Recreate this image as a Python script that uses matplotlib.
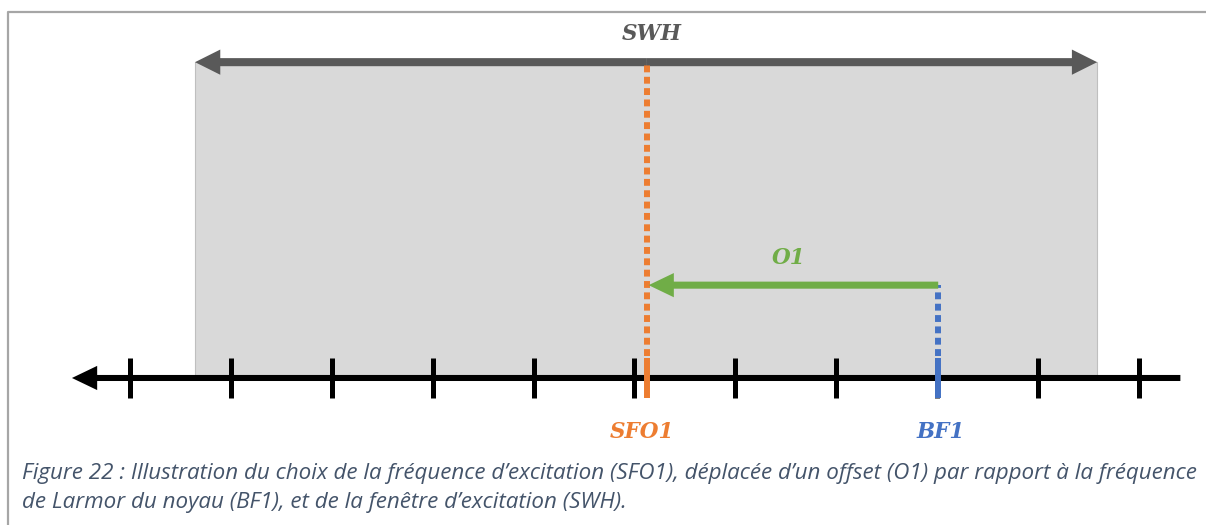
import matplotlib.pyplot as plt
from matplotlib.patches import Rectangle

# positions along the frequency axis, in tick units
ticks = [0, 1, 2, 3, 4, 5, 6, 7, 8, 9, 10]
swh_window = [0.645, 9.585]
sfo1 = 5.12
bf1 = 8.01
o1_level = 0.92
swh_level = 3.13
labels = ['SWH', 'O1', 'SFO1', 'BF1']
caption = ["Figure 22 : Illustration du choix de la fréquence d’excitation (SFO1), déplacée d’un offset (O1) par rapport à la fréquence",
           "de Larmor du noyau (BF1), et de la fenêtre d’excitation (SWH)."]

orange = '#ED7D31'
blue = '#4472C4'
green = '#70AD47'
dark = '#595959'
lab_font = dict(family='DejaVu Serif', weight='bold', style='italic', fontsize=15.5,
                ha='center', va='center')

fig = plt.figure(figsize=(12.06, 5.25), dpi=100)
ax = fig.add_axes([0, 0, 1, 1])
ax.set_xlim(-1.288, 10.664)
ax.set_ylim(-1.457, 3.746)
ax.axis('off')

# frame of the figure box
ax.plot([-1.21, -1.21, 10.7], [-1.5, 3.63, 3.63], color='#A6A6A6', lw=1.6)

# excitation window
ax.add_patch(Rectangle((swh_window[0], 0), swh_window[1] - swh_window[0], swh_level,
                       facecolor='#D9D9D9', edgecolor='#BFBFBF', lw=0.8, zorder=1))

# SWH double arrow
mid = (swh_window[0] + swh_window[1]) / 2
for end in swh_window:
    ax.arrow(mid, swh_level, end - mid, 0, width=0.08, head_width=0.25, head_length=0.25,
             length_includes_head=True, color=dark, lw=0, zorder=3)
ax.text(sfo1 + 0.05, 3.405, labels[0], color=dark, **lab_font)

# frequency axis
ax.arrow(10.41, 0, -10.985, 0, width=0.06, head_width=0.24, head_length=0.25,
         length_includes_head=True, color='black', lw=0, zorder=3)
ax.vlines(ticks, -0.2, 0.2, color='black', lw=3.6, zorder=3)

# SFO1 (orange) and BF1 (blue)
ax.plot([sfo1, sfo1], [0.22, swh_level - 0.02], color=orange, lw=4.3,
        linestyle=(0, (1.15, 0.75)), dash_capstyle='butt', zorder=4)
ax.plot([sfo1, sfo1], [-0.2, 0.2], color=orange, lw=4.3, solid_capstyle='butt', zorder=4)
ax.plot([bf1, bf1], [0.22, o1_level], color=blue, lw=4.3,
        linestyle=(0, (1.15, 0.75)), dash_capstyle='butt', zorder=4)
ax.plot([bf1, bf1], [-0.2, 0.2], color=blue, lw=4.3, solid_capstyle='butt', zorder=4)

# O1 offset arrow
ax.arrow(bf1, o1_level, sfo1 + 0.02 - bf1, 0, width=0.07, head_width=0.24, head_length=0.25,
         length_includes_head=True, color=green, lw=0, zorder=5)
ax.text(6.53, 1.19, labels[1], color=green, **lab_font)

ax.text(5.07, -0.54, labels[2], color=orange, **lab_font)
ax.text(8.03, -0.54, labels[3], color=blue, **lab_font)

# caption
for i, line in enumerate(caption):
    ax.text(-1.07, -0.95 - 0.28 * i, line, color='#44546A', fontsize=16.1,
            family='Open Sans', style='italic', ha='left', va='center')

fig.savefig('out.png', dpi=100)
